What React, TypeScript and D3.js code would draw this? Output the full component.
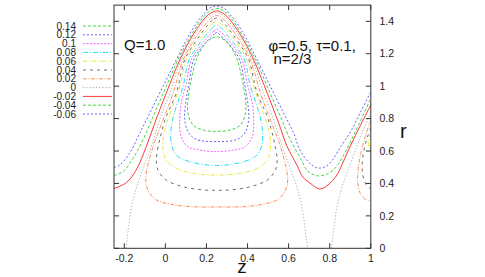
import React from "react";
import * as d3 from "d3";

// ---- data ----
const levels = [0.14, 0.12, 0.1, 0.08, 0.06, 0.04, 0.02, 0, -0.02, -0.04, -0.06];
const levelLabels = ["0.14", "0.12", "0.1", "0.08", "0.06", "0.04", "0.02", "0", "-0.02", "-0.04", "-0.06"];
const zTicks = [-0.2, 0, 0.2, 0.4, 0.6, 0.8, 1];
const zTickLabels = ["-0.2", "0", "0.2", "0.4", "0.6", "0.8", "1"];
const rTicks = [0, 0.2, 0.4, 0.6, 0.8, 1, 1.2, 1.4];
const rTickLabels = ["0", "0.2", "0.4", "0.6", "0.8", "1", "1.2", "1.4"];

type P = [number, number];

const c014: P[] = [[0.25,1.304],[0.224,1.294],[0.2,1.27],[0.176,1.23],[0.15,1.162],[0.126,1.039],[0.11,0.916],[0.11,0.833],[0.134,0.761],[0.183,0.73],[0.25,0.721],[0.317,0.73],[0.366,0.761],[0.39,0.833],[0.39,0.916],[0.374,1.039],[0.35,1.162],[0.324,1.23],[0.3,1.27],[0.276,1.294]];
const c012: P[] = [[0.25,1.331],[0.239,1.322],[0.224,1.304],[0.202,1.276],[0.173,1.233],[0.138,1.162],[0.115,1.018],[0.099,0.895],[0.094,0.802],[0.11,0.719],[0.15,0.672],[0.25,0.658],[0.35,0.672],[0.39,0.719],[0.406,0.802],[0.401,0.895],[0.385,1.018],[0.362,1.162],[0.327,1.233],[0.298,1.276],[0.276,1.304],[0.261,1.322]];
const c010: P[] = [[0.25,1.353],[0.236,1.34],[0.219,1.322],[0.197,1.291],[0.166,1.241],[0.126,1.162],[0.102,1.018],[0.077,0.895],[0.07,0.791],[0.077,0.688],[0.11,0.627],[0.167,0.606],[0.25,0.596],[0.333,0.606],[0.39,0.627],[0.423,0.688],[0.43,0.791],[0.423,0.895],[0.398,1.018],[0.374,1.162],[0.334,1.241],[0.303,1.291],[0.281,1.322],[0.264,1.34]];
const c008: P[] = [[0.25,1.378],[0.234,1.365],[0.217,1.344],[0.193,1.307],[0.159,1.251],[0.115,1.162],[0.086,0.997],[0.053,0.874],[0.029,0.75],[0.029,0.648],[0.053,0.576],[0.118,0.534],[0.25,0.511],[0.382,0.534],[0.447,0.576],[0.471,0.648],[0.471,0.75],[0.447,0.874],[0.414,0.997],[0.385,1.162],[0.341,1.251],[0.307,1.307],[0.283,1.344],[0.266,1.365]];
const c006: P[] = [[0.25,1.402],[0.232,1.39],[0.212,1.362],[0.185,1.322],[0.149,1.26],[0.102,1.162],[0.07,0.997],[0.029,0.853],[-0.003,0.73],[-0.012,0.627],[0.004,0.545],[0.053,0.494],[0.134,0.463],[0.25,0.452],[0.366,0.463],[0.447,0.494],[0.496,0.545],[0.512,0.627],[0.503,0.73],[0.471,0.853],[0.43,0.997],[0.398,1.162],[0.351,1.26],[0.315,1.322],[0.288,1.362],[0.268,1.39]];
const c006Edge: P[] = [[1.0,0.71],[0.992,0.68],[0.988,0.65],[0.992,0.62],[1.0,0.6]];
const c004: P[] = [[0.25,1.42],[0.229,1.409],[0.207,1.378],[0.18,1.334],[0.142,1.266],[0.094,1.162],[0.053,0.956],[0.004,0.812],[-0.028,0.668],[-0.044,0.545],[-0.036,0.483],[0.004,0.421],[0.086,0.38],[0.183,0.36],[0.25,0.358],[0.317,0.36],[0.414,0.38],[0.496,0.421],[0.536,0.483],[0.544,0.545],[0.528,0.668],[0.496,0.812],[0.447,0.956],[0.406,1.162],[0.358,1.266],[0.32,1.334],[0.293,1.378],[0.271,1.409]];
const c004Edge: P[] = [[1.0,0.745],[0.982,0.68],[0.966,0.6],[0.958,0.52],[0.96,0.46],[0.97,0.41],[0.985,0.38],[1.0,0.37]];
const c002: P[] = [[0.25,1.436],[0.227,1.424],[0.202,1.393],[0.173,1.347],[0.134,1.273],[0.086,1.162],[0.037,0.956],[-0.012,0.791],[-0.06,0.627],[-0.093,0.463],[-0.093,0.39],[-0.076,0.339],[-0.044,0.298],[0.021,0.273],[0.118,0.257],[0.25,0.255],[0.382,0.257],[0.479,0.273],[0.544,0.298],[0.576,0.339],[0.593,0.39],[0.593,0.463],[0.56,0.627],[0.512,0.791],[0.463,0.956],[0.414,1.162],[0.366,1.273],[0.327,1.347],[0.298,1.393],[0.273,1.424]];
const c002Edge: P[] = [[1.0,0.79],[0.978,0.71],[0.958,0.62],[0.943,0.53],[0.936,0.45],[0.938,0.39],[0.948,0.34],[0.97,0.305],[1.0,0.292]];
const c000a: P[] = [[-0.192,0],[-0.187,0.051],[-0.182,0.102],[-0.166,0.247],[-0.142,0.37],[-0.109,0.489],[-0.069,0.627],[-0.028,0.791],[0.021,0.956],[0.077,1.162],[0.125,1.276],[0.166,1.359],[0.197,1.409],[0.224,1.44],[0.25,1.453],[0.276,1.44],[0.303,1.409],[0.334,1.359],[0.375,1.276],[0.423,1.162],[0.479,0.956],[0.528,0.791],[0.569,0.627],[0.609,0.489],[0.642,0.37],[0.666,0.247],[0.682,0.102],[0.687,0.051],[0.692,0]];
const c000b: P[] = [[0.808,0],[0.813,0.051],[0.818,0.102],[0.834,0.247],[0.858,0.37],[0.888,0.475],[0.93,0.62],[0.97,0.75],[1.0,0.835]];
const cm002: P[] = [[-0.25,0.369],[-0.19,0.405],[-0.142,0.483],[-0.093,0.627],[-0.052,0.771],[0.004,0.956],[0.07,1.162],[0.117,1.279],[0.161,1.368],[0.193,1.421],[0.222,1.452],[0.25,1.464],[0.278,1.452],[0.307,1.421],[0.339,1.368],[0.383,1.279],[0.43,1.162],[0.496,0.956],[0.552,0.771],[0.593,0.627],[0.64,0.514],[0.669,0.44],[0.703,0.403],[0.752,0.366],[0.791,0.39],[0.835,0.452],[0.859,0.514],[0.9,0.63],[0.95,0.76],[1.0,0.884]];
const cm004: P[] = [[-0.25,0.449],[-0.206,0.473],[-0.158,0.555],[-0.109,0.668],[-0.06,0.812],[-0.003,0.977],[0.061,1.162],[0.11,1.279],[0.155,1.374],[0.188,1.43],[0.219,1.467],[0.25,1.479],[0.281,1.467],[0.312,1.43],[0.345,1.374],[0.39,1.279],[0.439,1.162],[0.503,0.977],[0.56,0.812],[0.609,0.668],[0.658,0.555],[0.69,0.48],[0.72,0.455],[0.75,0.446],[0.79,0.46],[0.83,0.5],[0.87,0.58],[0.91,0.68],[0.955,0.8],[1.0,0.927]];
const cm006: P[] = [[-0.25,0.498],[-0.222,0.514],[-0.174,0.586],[-0.125,0.709],[-0.076,0.833],[-0.012,0.997],[0.053,1.162],[0.103,1.287],[0.149,1.384],[0.183,1.439],[0.217,1.482],[0.25,1.495],[0.283,1.482],[0.317,1.439],[0.351,1.384],[0.397,1.287],[0.447,1.162],[0.512,0.997],[0.576,0.833],[0.625,0.709],[0.655,0.606],[0.703,0.524],[0.736,0.497],[0.765,0.497],[0.8,0.524],[0.849,0.617],[0.906,0.73],[0.95,0.84],[1.0,0.965]];

const contourSets: { level: number; closed: P[][]; open: P[][] }[] = [
  { level: 0.14, closed: [c014], open: [] },
  { level: 0.12, closed: [c012], open: [] },
  { level: 0.1, closed: [c010], open: [] },
  { level: 0.08, closed: [c008], open: [] },
  { level: 0.06, closed: [c006], open: [c006Edge] },
  { level: 0.04, closed: [c004], open: [c004Edge] },
  { level: 0.02, closed: [c002], open: [c002Edge] },
  { level: 0, closed: [], open: [c000a, c000b] },
  { level: -0.02, closed: [], open: [cm002] },
  { level: -0.04, closed: [], open: [cm004] },
  { level: -0.06, closed: [], open: [cm006] },
];

// ---- styles ----
const styles: Record<string, { color: string; dash: string }> = {
  "0.14": { color: "#44d444", dash: "3,2" },
  "0.12": { color: "#6464ff", dash: "2,2" },
  "0.1": { color: "#ff60ff", dash: "2,1.5" },
  "0.08": { color: "#22e0f0", dash: "5,2,1,2" },
  "0.06": { color: "#e8e830", dash: "4,2,1,2" },
  "0.04": { color: "#6e6e6e", dash: "3,4" },
  "0.02": { color: "#ff8f5c", dash: "4,1.5,1,1.5" },
  "0": { color: "#a8a8a8", dash: "1.2,2" },
  "-0.02": { color: "#ff3838", dash: "none" },
  "-0.04": { color: "#44d444", dash: "3,2" },
  "-0.06": { color: "#6464ff", dash: "2,2" },
};

const W = 485, H = 277;
const X0 = 114, X1 = 370.8, Y0 = 5.1, Y1 = 248.3;
const FONT = "'Liberation Sans', Arial, Helvetica, sans-serif";

export default function App() {
  const x = d3.scaleLinear().domain([-0.25, 1]).range([X0, X1]);
  const y = d3.scaleLinear().domain([0, 1.5]).range([Y1, Y0]);
  const lineOpen = d3.line<P>().x((d) => x(d[0])).y((d) => y(d[1])).curve(d3.curveCatmullRom.alpha(0.5));
  const lineClosed = d3.line<P>().x((d) => x(d[0])).y((d) => y(d[1])).curve(d3.curveCatmullRomClosed.alpha(0.5));
  const key = (l: number) => levelLabels[levels.indexOf(l)];

  return (
    <svg width={W} height={H} style={{ position: "absolute", left: 0, top: 0, background: "#fff" }} fontFamily={FONT}>
      <defs>
        <clipPath id="plotclip">
          <rect x={X0} y={Y0} width={X1 - X0} height={Y1 - Y0} />
        </clipPath>
      </defs>
      <rect x={0} y={0} width={W} height={H} fill="#fff" />
      {/* contours */}
      <g clipPath="url(#plotclip)" fill="none" strokeWidth={1}>
        {contourSets.map((s) => {
          const st = styles[key(s.level)];
          return (
            <g key={s.level} stroke={st.color} strokeDasharray={st.dash}>
              {s.closed.map((c, i) => (
                <path key={"c" + i} d={lineClosed(c) || ""} />
              ))}
              {s.open.map((c, i) => (
                <path key={"o" + i} d={lineOpen(c) || ""} />
              ))}
            </g>
          );
        })}
      </g>
      {/* frame */}
      <rect x={X0} y={Y0} width={X1 - X0} height={Y1 - Y0} fill="none" stroke="#333" strokeWidth={1} />
      {/* ticks */}
      <g stroke="#333" strokeWidth={1}>
        {zTicks.map((t) => (
          <g key={"zt" + t}>
            <line x1={x(t)} x2={x(t)} y1={Y1} y2={Y1 - 5} />
            <line x1={x(t)} x2={x(t)} y1={Y0} y2={Y0 + 5} />
          </g>
        ))}
        {rTicks.map((t) => (
          <g key={"rt" + t}>
            <line x1={X0} x2={X0 + 5} y1={y(t)} y2={y(t)} />
            <line x1={X1} x2={X1 - 5} y1={y(t)} y2={y(t)} />
          </g>
        ))}
      </g>
      {/* tick labels */}
      <g fontSize={10.5} fill="#222">
        {zTicks.map((t, i) => (
          <text key={"zl" + t} x={x(t)} y={261.5} textAnchor="middle">
            {zTickLabels[i]}
          </text>
        ))}
        {rTicks.map((t, i) => (
          <text key={"rl" + t} x={379.5} y={y(t)} dy="0.35em" textAnchor="start">
            {rTickLabels[i]}
          </text>
        ))}
      </g>
      {/* axis labels */}
      <text x={242} y={272.5} fontSize={19} textAnchor="middle" fill="#111">z</text>
      <text x={400} y={138} fontSize={20} fill="#111">r</text>
      {/* annotations */}
      <text x={124} y={50} fontSize={15} fill="#111">Q=1.0</text>
      <text x={268.5} y={50.5} fontSize={15} fill="#111">φ=0.5, τ=0.1,</text>
      <text x={273.5} y={63.5} fontSize={15} fill="#111">n=2/3</text>
      {/* legend */}
      <g fontSize={10} fill="#222">
        {levels.map((l, i) => {
          const st = styles[levelLabels[i]];
          const ly = 26 + i * 8.8;
          return (
            <g key={"lg" + i}>
              <text x={76} y={ly} dy="0.35em" textAnchor="end">{levelLabels[i]}</text>
              <line x1={83} x2={112} y1={ly} y2={ly} stroke={st.color} strokeDasharray={st.dash} strokeWidth={1} />
            </g>
          );
        })}
      </g>
    </svg>
  );
}
